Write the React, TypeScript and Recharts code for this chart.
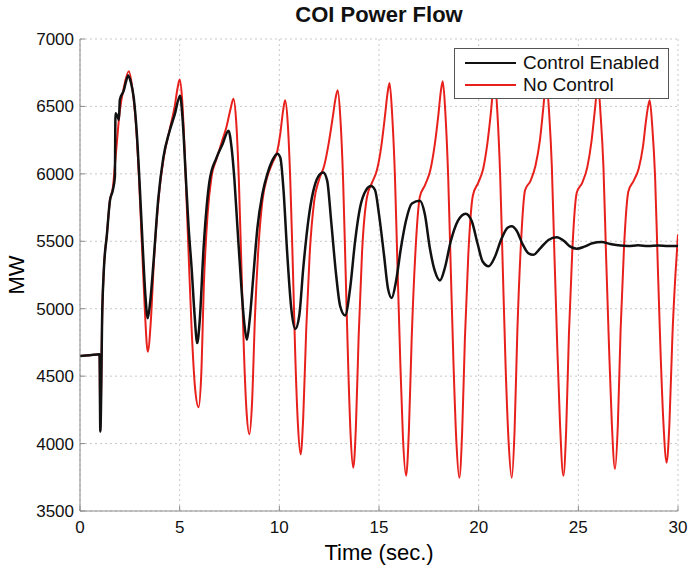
import React from "react";
import {
  LineChart,
  Line,
  XAxis,
  YAxis,
  CartesianGrid,
} from "recharts";

// time (sec.) and power flow (MW)
const controlTime = [
  0, 0.5, 0.98, 1.02, 1.12, 1.2, 1.35, 1.5, 1.65, 1.75, 1.78, 1.9, 1.95, 2.0,
  2.2, 2.3, 2.42, 2.55, 2.7, 2.85, 3.0, 3.15, 3.28, 3.4, 3.52, 3.68, 3.93, 4.18,
  4.5, 4.75, 5.02, 5.15, 5.3, 5.45, 5.6, 5.75, 5.88, 6.0, 6.2, 6.5, 6.85, 7.15,
  7.45, 7.6, 7.75, 7.9, 8.1, 8.25, 8.37, 8.5, 8.7, 8.9, 9.15, 9.4, 9.65, 9.9,
  10.05, 10.2, 10.4, 10.6, 10.8, 11.0, 11.2, 11.45, 11.7, 11.95, 12.2, 12.4,
  12.6, 12.85, 13.05, 13.3, 13.55, 13.8, 14.05, 14.35, 14.6, 14.8, 15.0, 15.25,
  15.45, 15.64, 15.85, 16.1, 16.35, 16.65, 17.05, 17.3, 17.55, 17.8, 18.06,
  18.3, 18.6, 18.95, 19.35, 19.65, 19.95, 20.2, 20.5, 20.8, 21.15, 21.45, 21.66,
  21.9, 22.2, 22.5, 22.74, 23.1, 23.5, 23.92, 24.3, 24.6, 24.92, 25.3, 25.7,
  26.17, 26.6, 27.0, 27.5, 28.0, 28.5, 29.0, 29.5, 30,
];
const controlMw = [
  4650, 4655, 4662, 4090, 5000, 5300, 5550, 5800, 5880, 5980, 6450, 6420, 6400,
  6550, 6620, 6680, 6730, 6680, 6560, 6300, 5900, 5450, 5100, 4930, 5050, 5330,
  5820, 6120, 6320, 6440, 6580, 6400, 6000, 5600, 5300, 4950, 4745, 4900, 5450,
  5950, 6120, 6220, 6320, 6200, 5950, 5600, 5150, 4880, 4770, 4900, 5250, 5600,
  5850, 6000, 6100, 6150, 6120, 5900, 5400, 5000, 4850, 4950, 5300, 5650, 5870,
  5980, 6010, 5950, 5650, 5250, 5020, 4950, 5150, 5500, 5750, 5880, 5910, 5880,
  5700, 5400, 5150, 5080, 5200, 5450, 5650, 5780, 5800, 5700, 5450, 5280, 5210,
  5300, 5500, 5650, 5705, 5650, 5480, 5350, 5315, 5380, 5520, 5600, 5612, 5580,
  5480, 5410, 5400, 5450, 5510, 5530, 5500, 5460, 5445, 5460, 5485, 5495, 5480,
  5470, 5465, 5470, 5465, 5468, 5465, 5465,
];

const noControlTime = [
  0, 0.5, 0.98, 1.02, 1.12, 1.2, 1.35, 1.5, 1.65, 1.8, 2.0, 2.2, 2.45, 2.62, 2.8,
  2.95, 3.1, 3.25, 3.4,
  3.55, 3.7, 3.95, 4.2, 4.5, 4.75, 4.9, 5.0, 5.12, 5.27, 5.45, 5.6, 5.78, 5.95,
  6.08, 6.22, 6.4, 6.6, 6.85, 7.1, 7.35, 7.55, 7.7, 7.83, 7.97, 8.1, 8.22, 8.35, 8.5,
  8.63, 8.78, 8.95, 9.15, 9.4, 9.65, 9.9, 10.05, 10.18, 10.29, 10.42, 10.55, 10.68,
  10.8, 10.93, 11.07,
  11.2, 11.35, 11.52, 11.75, 12.0, 12.25, 12.48, 12.68, 12.82, 12.93, 13.06, 13.2,
  13.33, 13.46, 13.58, 13.71,
  13.84, 13.98, 14.15, 14.4, 14.65, 14.9, 15.12, 15.3, 15.43, 15.53, 15.66, 15.8,
  15.93, 16.07, 16.2, 16.36,
  16.5, 16.64, 16.82, 17.05, 17.32, 17.58, 17.8, 17.98, 18.1, 18.2, 18.33, 18.47,
  18.6, 18.74, 18.88, 19.03,
  19.17, 19.31, 19.48, 19.71, 19.98, 20.23, 20.44, 20.61, 20.72, 20.81, 20.94,
  21.08, 21.21, 21.35, 21.5, 21.66,
  21.8, 21.94, 22.11, 22.33, 22.6, 22.85, 23.07, 23.23, 23.33, 23.4, 23.54, 23.67,
  23.8, 23.93, 24.08, 24.25,
  24.39, 24.53, 24.7, 24.92, 25.2, 25.45, 25.66, 25.82, 25.92, 25.99, 26.12, 26.26,
  26.39, 26.53, 26.68, 26.84,
  26.98, 27.12, 27.29, 27.51, 27.78, 28.03, 28.24, 28.4, 28.5, 28.58, 28.71, 28.85,
  28.98, 29.12, 29.27, 29.43,
  29.57, 29.72, 29.87, 30,
];
const noControlMw = [
  4650, 4655, 4662, 4090, 5000, 5300, 5550, 5800, 5900, 6150, 6470, 6640, 6760,
  6640, 6380, 6000, 5500, 5000, 4680,
  4900, 5330, 5830, 6120, 6330, 6500, 6640, 6700, 6560, 6100, 5400, 4850, 4400, 4270,
  4500, 5200, 5700, 5980, 6110, 6230, 6350, 6480, 6557, 6400, 5950, 5300, 4700, 4250, 4070,
  4300, 4950, 5450, 5800, 5980, 6080, 6170, 6300, 6460, 6545, 6380, 5950, 5300,
  4650, 4150, 3920,
  4200, 4850, 5400, 5800, 5960, 6060, 6230, 6420, 6560, 6620, 6420, 5950,
  5250, 4550, 4050, 3821,
  4120, 4800, 5420, 5830, 5935, 6030, 6210, 6430, 6600, 6673, 6440, 5980,
  5300, 4600, 4050, 3761,
  4100, 4780, 5400, 5830, 5920, 6030, 6220, 6440, 6610, 6686, 6450, 5980,
  5300, 4580, 4020, 3746,
  4080, 4780, 5400, 5840, 5935, 6040, 6230, 6450, 6620, 6690, 6450,
  5980, 5300, 4580, 4020, 3746,
  4090, 4830, 5450, 5880, 5948, 6060, 6246, 6470, 6620, 6680, 6440, 6060,
  5400, 4780, 4150, 3761,
  4100, 4820, 5440, 5860, 5935, 6050, 6240, 6460, 6600, 6660, 6430, 6050,
  5400, 4760, 4150, 3811,
  4130, 4840, 5450, 5870, 5950, 6040, 6200, 6400, 6500, 6545, 6350, 5980,
  5350, 4700, 4150, 3858,
  4150, 4800, 5250, 5550,
];

const timeTicks = [0, 5, 10, 15, 20, 25, 30];
const mwTicks = [3500, 4000, 4500, 5000, 5500, 6000, 6500, 7000];

const seriesNames = ["Control Enabled", "No Control"];
const seriesColors = ["#111111", "#e8201c"];

const controlData = controlTime.map((t, i) => ({ t, mw: controlMw[i] }));
const noControlData = noControlTime.map((t, i) => ({ t, mw: noControlMw[i] }));

const FONT = '"Liberation Sans", Arial, Helvetica, sans-serif';
const AXIS = "#8a8a8a";

function MwLabel(props: any) {
  const vb = props.viewBox || { x: 0, y: 39, height: 472 };
  const cy = vb.y + vb.height / 2;
  return (
    <text
      x={16}
      y={cy}
      transform={`rotate(-90, 16, ${cy})`}
      textAnchor="middle"
      dominantBaseline="central"
      fontSize={22}
      fontFamily={FONT}
      fill="#000"
    >
      MW
    </text>
  );
}

export default function App() {
  return (
    <div
      style={{
        position: "absolute",
        left: 0,
        top: 0,
        width: 690,
        height: 568,
        background: "#fff",
        fontFamily: FONT,
      }}
    >
      <div
        style={{
          position: "absolute",
          left: 80,
          top: 4,
          width: 598,
          textAlign: "center",
          fontWeight: "bold",
          fontSize: 22,
          lineHeight: "22px",
          color: "#111",
        }}
      >
        COI Power Flow
      </div>
      <LineChart
        width={690}
        height={568}
        margin={{ top: 39, right: 12, bottom: 0, left: 0 }}
      >
        <CartesianGrid
          xAxisId="bottom"
          yAxisId="left"
          stroke="#c8c8c8"
          strokeDasharray="2 3"
        />
        <XAxis
          xAxisId="bottom"
          dataKey="t"
          type="number"
          domain={[0, 30]}
          ticks={timeTicks}
          allowDataOverflow
          height={57}
          stroke={AXIS}
          tickSize={-5}
          tickMargin={15}
          tick={{ fontSize: 17, fill: "#111", fontFamily: FONT }}
          label={{
            value: "Time (sec.)",
            position: "insideBottom",
            offset: 8,
            fontSize: 22,
            fill: "#000",
            fontFamily: FONT,
          }}
        />
        <XAxis
          xAxisId="top"
          dataKey="t"
          type="number"
          orientation="top"
          domain={[0, 30]}
          ticks={timeTicks}
          allowDataOverflow
          height={0}
          stroke={AXIS}
          tickSize={-5}
          tick={() => <g />}
        />
        <YAxis
          yAxisId="left"
          type="number"
          domain={[3500, 7000]}
          ticks={mwTicks}
          allowDataOverflow
          width={80}
          stroke={AXIS}
          tickSize={-5}
          tickMargin={11}
          tick={{ fontSize: 17, fill: "#111", fontFamily: FONT }}
          label={<MwLabel />}
        />
        <YAxis
          yAxisId="right"
          type="number"
          orientation="right"
          domain={[3500, 7000]}
          ticks={mwTicks}
          allowDataOverflow
          width={0}
          stroke={AXIS}
          tickSize={-5}
          tick={() => <g />}
        />
        <Line
          xAxisId="bottom"
          yAxisId="left"
          data={noControlData}
          dataKey="mw"
          name={seriesNames[1]}
          type="monotone"
          stroke={seriesColors[1]}
          strokeWidth={2}
          dot={false}
          activeDot={false}
          isAnimationActive={false}
        />
        <Line
          xAxisId="bottom"
          yAxisId="left"
          data={controlData}
          dataKey="mw"
          name={seriesNames[0]}
          type="monotone"
          stroke={seriesColors[0]}
          strokeWidth={2.5}
          dot={false}
          activeDot={false}
          isAnimationActive={false}
        />
      </LineChart>
      <div
        style={{
          position: "absolute",
          left: 454,
          top: 48,
          width: 215,
          height: 51,
          border: "1px solid #555",
          background: "#fff",
          boxSizing: "border-box",
          paddingTop: 3,
        }}
      >
        {seriesNames.map((name, i) => (
          <div
            key={name}
            style={{
              display: "flex",
              alignItems: "center",
              height: 22,
              fontSize: 19,
              color: "#111",
            }}
          >
            <span
              style={{
                display: "inline-block",
                width: 51,
                height: 0,
                borderTop: `2.5px solid ${seriesColors[i]}`,
                marginLeft: 10,
                marginRight: 7,
              }}
            />
            {name}
          </div>
        ))}
      </div>
    </div>
  );
}
